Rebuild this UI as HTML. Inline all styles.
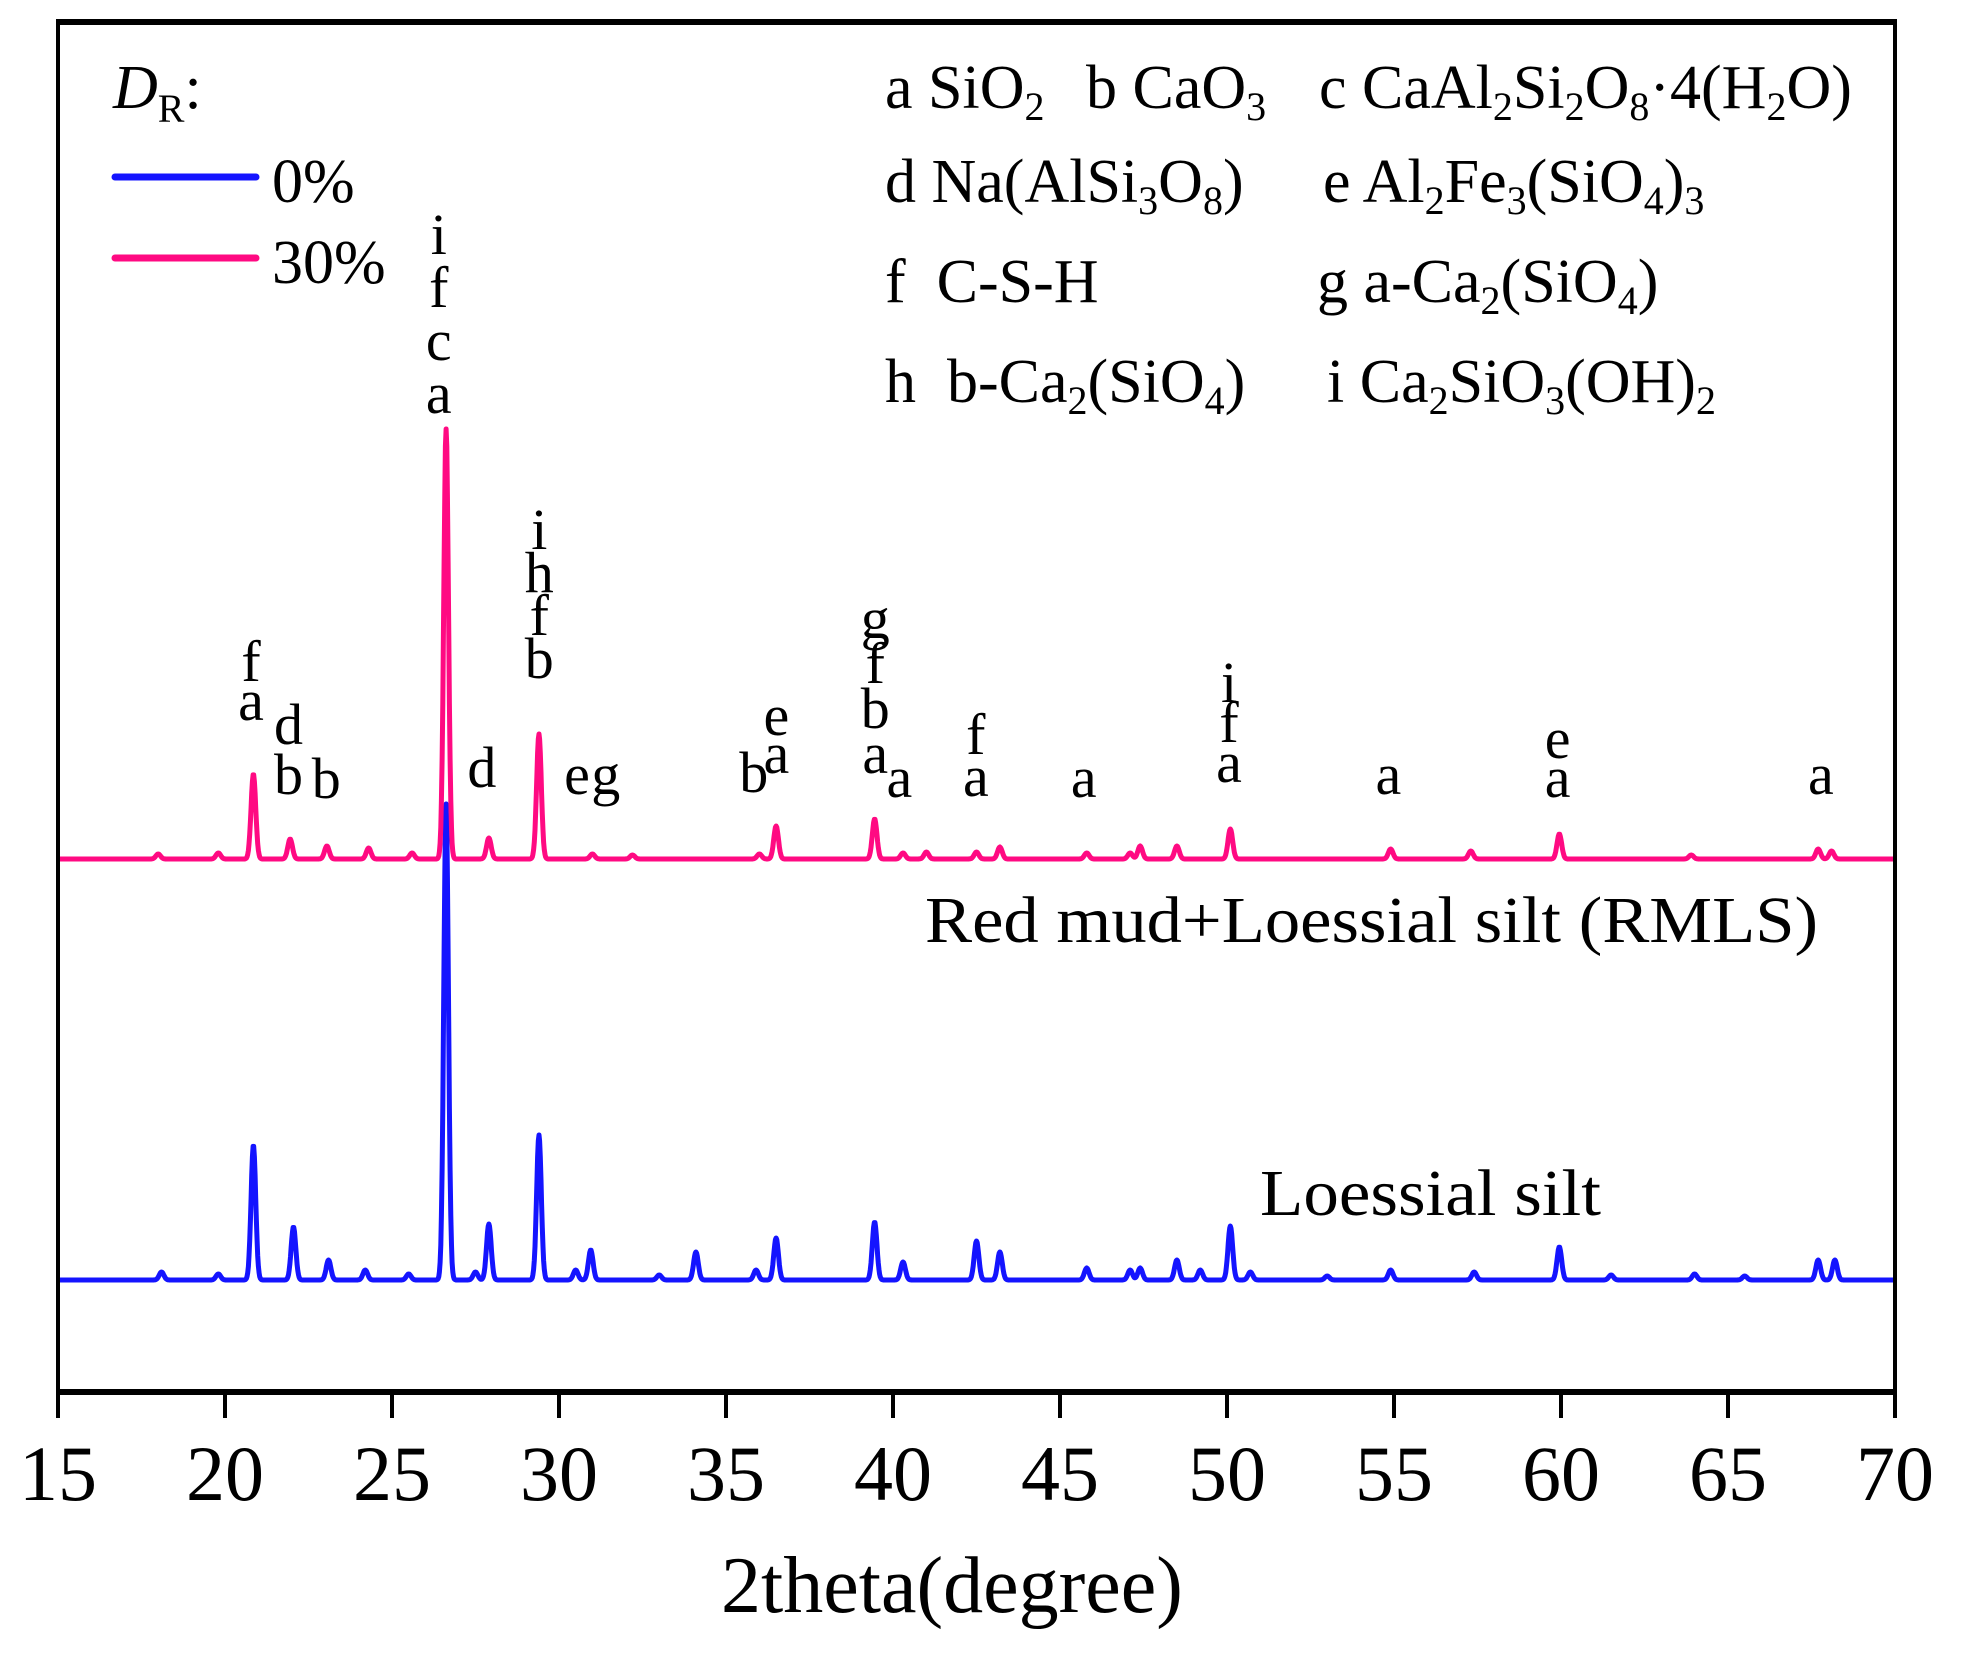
<!DOCTYPE html>
<html><head><meta charset="utf-8"><style>
html,body{margin:0;padding:0;background:#fff}
svg{display:block;font-family:"Liberation Serif",serif}
</style></head><body>
<svg id="chart" width="1964" height="1655" viewBox="0 0 1964 1655" xmlns="http://www.w3.org/2000/svg">
<rect x="0" y="0" width="1964" height="1655" fill="#fff"/>
<g id="series"></g>
<g id="annots" font-size="58" text-anchor="middle"></g>
<rect x="58" y="22" width="1837" height="1370" fill="none" stroke="#000" stroke-width="4"/>
<line x1="56" y1="22" x2="1897" y2="22" stroke="#000" stroke-width="6"/>
<line x1="56" y1="1392" x2="1897" y2="1392" stroke="#000" stroke-width="6"/>
<g id="xticks"></g>
<text x="952" y="1612" font-size="80" text-anchor="middle">2theta(degree)</text>
<g font-size="62">
<text x="113" y="108"><tspan font-style="italic">D</tspan><tspan font-size="40" dy="14">R</tspan><tspan dy="-14">:</tspan></text>
<line x1="115" y1="177" x2="256" y2="177" stroke="#1414ff" stroke-width="7" stroke-linecap="round"/>
<text x="272" y="202">0%</text>
<line x1="115" y1="258" x2="256" y2="258" stroke="#ff0a82" stroke-width="7" stroke-linecap="round"/>
<text x="272" y="283">30%</text>
</g>
<g font-size="62">
<text x="885" y="108">a SiO<tspan font-size="40" dy="12">2</tspan></text>
<text x="1086" y="108">b CaO<tspan font-size="40" dy="12">3</tspan></text>
<text x="1319" y="108">c CaAl<tspan font-size="40" dy="12">2</tspan><tspan dy="-12">Si</tspan><tspan font-size="40" dy="12">2</tspan><tspan dy="-12">O</tspan><tspan font-size="40" dy="12">8</tspan><tspan dy="-12">·4(H</tspan><tspan font-size="40" dy="12">2</tspan><tspan dy="-12">O)</tspan></text>
<text x="885" y="202">d Na(AlSi<tspan font-size="40" dy="12">3</tspan><tspan dy="-12">O</tspan><tspan font-size="40" dy="12">8</tspan><tspan dy="-12">)</tspan></text>
<text x="1323" y="202">e Al<tspan font-size="40" dy="12">2</tspan><tspan dy="-12">Fe</tspan><tspan font-size="40" dy="12">3</tspan><tspan dy="-12">(SiO</tspan><tspan font-size="40" dy="12">4</tspan><tspan dy="-12">)</tspan><tspan font-size="40" dy="12">3</tspan></text>
<text x="885" y="302" xml:space="preserve">f  C-S-H</text>
<text x="1317" y="302">g a-Ca<tspan font-size="40" dy="12">2</tspan><tspan dy="-12">(SiO</tspan><tspan font-size="40" dy="12">4</tspan><tspan dy="-12">)</tspan></text>
<text x="885" y="402" xml:space="preserve">h  b-Ca<tspan font-size="40" dy="12">2</tspan><tspan dy="-12">(SiO</tspan><tspan font-size="40" dy="12">4</tspan><tspan dy="-12">)</tspan></text>
<text x="1327" y="402">i Ca<tspan font-size="40" dy="12">2</tspan><tspan dy="-12">SiO</tspan><tspan font-size="40" dy="12">3</tspan><tspan dy="-12">(OH)</tspan><tspan font-size="40" dy="12">2</tspan></text>
</g>
<text x="925" y="942" font-size="66" textLength="893" lengthAdjust="spacingAndGlyphs">Red mud+Loessial silt (RMLS)</text>
<text x="1260" y="1215" font-size="66" textLength="341" lengthAdjust="spacingAndGlyphs">Loessial silt</text>
</svg>
<script>
const xTicks = [15,20,25,30,35,40,45,50,55,60,65,70];
const pinkPos = [18.0,19.8,20.85,21.95,23.05,24.3,25.6,26.62,27.9,29.4,31.0,32.2,36.0,36.5,39.45,40.3,41.0,42.5,43.2,45.8,47.1,47.4,48.5,50.1,54.9,57.3,59.95,63.9,67.7,68.1];
const pinkInt = [5,6,85,20,13,11,6,430,21,125,5,4,5,33,40,6,7,7,12,6,6,13,13,30,10,8,25,4,10,8];
const bluePos = [18.1,19.8,20.85,22.05,23.1,24.2,25.5,26.62,27.5,27.9,29.4,30.5,30.95,33.0,34.1,35.9,36.5,39.45,40.3,42.5,43.2,45.8,47.1,47.4,48.5,49.2,50.1,50.7,53.0,54.9,57.4,59.95,61.5,64.0,65.5,67.7,68.2];
const blueInt = [8,6,135,53,20,10,6,476,8,56,145,10,30,5,28,10,42,58,18,39,28,12,10,12,20,10,54,8,4,10,8,33,5,6,4,20,20];
const annotPos = [20.78,21.9,23.03,26.4,27.69,29.41,30.54,31.4,35.83,36.51,39.47,40.19,42.48,45.71,50.06,54.83,59.9,67.78];
const annotLetters = [["f","a"],["d","b"],["b"],["i","f","c","a"],["d"],["i","h","f","b"],["e"],["g"],["b"],["e","a"],["g","f","b","a"],["a"],["f","a"],["a"],["i","f","a"],["a"],["e","a"],["a"]];
const annotBottom = [720,794,798,413,787,678,794,794,792,773,773,797,796,797,782,794,797,794];
const annotGap = [39,50,40,53,40,43,40,40,40,38,45,40,42,40,40,40,39,40];

const X0=58,X1=1895,D0=15,D1=70;
const xs = d => X0 + (d-D0)/(D1-D0)*(X1-X0);
const NS='http://www.w3.org/2000/svg';
const tg=document.getElementById('xticks');
xTicks.forEach(t=>{
  const l=document.createElementNS(NS,'line');
  l.setAttribute('x1',xs(t));l.setAttribute('x2',xs(t));l.setAttribute('y1',1392);l.setAttribute('y2',1418);
  l.setAttribute('stroke','#000');l.setAttribute('stroke-width',4);
  
  
  tg.appendChild(l);
  const tx=document.createElementNS(NS,'text');
  tx.setAttribute('x',xs(t));tx.setAttribute('y',1500);tx.setAttribute('font-size',78);tx.setAttribute('text-anchor','middle');
  tx.textContent=t;
  
  
  tg.appendChild(tx);
});
function curve(pos,ints,base){
  let d='';
  for(let x=D0;x<=D1+1e-9;x+=0.02){
    let y=0;
    for(let i=0;i<pos.length;i++){const z=(x-pos[i])/0.07;y+=ints[i]*Math.exp(-0.5*z*z);}
    d+=(d?'L':'M')+xs(x).toFixed(1)+' '+(base-y).toFixed(1);
  }
  return d;
}
const sg=document.getElementById('series');
const pb=document.createElementNS(NS,'path');
pb.setAttribute('d',curve(bluePos,blueInt,1280));
pb.setAttribute('fill','none');pb.setAttribute('stroke','#1414ff');pb.setAttribute('stroke-width',5);pb.setAttribute('stroke-linejoin','round');


sg.appendChild(pb);
const pp=document.createElementNS(NS,'path');
pp.setAttribute('d',curve(pinkPos,pinkInt,859));
pp.setAttribute('fill','none');pp.setAttribute('stroke','#ff0a82');pp.setAttribute('stroke-width',5);pp.setAttribute('stroke-linejoin','round');


sg.appendChild(pp);
const ag=document.getElementById('annots');
annotPos.forEach((p,i)=>{
  const L=annotLetters[i];
  L.forEach((ch,j)=>{
    const t=document.createElementNS(NS,'text');
    t.setAttribute('x',xs(p));
    t.setAttribute('y',annotBottom[i]-(L.length-1-j)*annotGap[i]);
    t.textContent=ch;
    
    
    ag.appendChild(t);
  });
});
</script>
</body></html>
